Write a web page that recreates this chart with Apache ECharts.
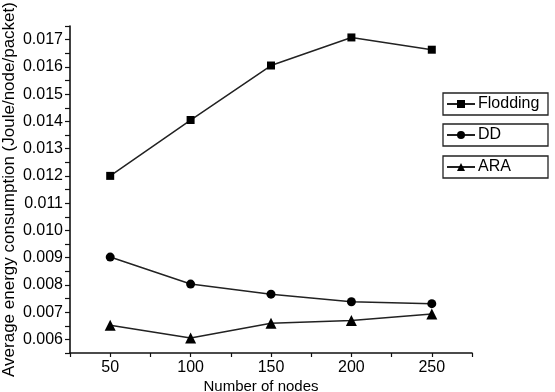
<!DOCTYPE html>
<html>
<head>
<meta charset="utf-8">
<script src="https://cdn.jsdelivr.net/npm/echarts@6/dist/echarts.min.js"></script>
<style>
  html, body { margin: 0; padding: 0; background: #fff; }
  #chart { width: 555px; height: 392px; }
</style>
</head>
<body>
<div id="chart"></div>
<script>
'use strict';

// values
var nodes = [50, 100, 150, 200, 250];
var flodding = [0.01200, 0.01405, 0.01605, 0.01708, 0.01663];
var dd = [0.00902, 0.00803, 0.00766, 0.00738, 0.00731];
var ara = [0.00652, 0.00605, 0.00659, 0.00669, 0.00693];
var seriesNames = ['Flodding', 'DD', 'ARA'];
var seriesSymbols = ['rect', 'circle', 'triangle'];

var font = 'Liberation Sans, Arial, sans-serif';

function pairs(ys) {
    return nodes.map(function(x, i) { return [x, ys[i]]; });
}

function makeSeries(name, ys, symbol) {
    return {
        name: name,
        type: 'line',
        data: pairs(ys),
        symbol: symbol,
        symbolSize: symbol === 'triangle' ? 11 : (symbol === 'rect' ? 8 : 9),
        lineStyle: { color: '#222', width: 1.5 },
        itemStyle: { color: '#000' },
        animation: false
    };
}

function makeLegend(name, top) {
    return {
        data: [name],
        left: 443,
        top: top,
        orient: 'vertical',
        itemWidth: 28,
        itemHeight: 10,
        itemGap: 0,
        padding: [3, 3, 3, 3],
        borderColor: '#222',
        borderWidth: 1.3,
        borderRadius: 0,
        textStyle: { color: '#000', fontSize: 16, fontFamily: font, width: 67, lineHeight: 16, padding: [0, 0, 0, -2] }
    };
}

var myChart = echarts.init(document.getElementById('chart'));

var option = {
    backgroundColor: '#fff',
    animation: false,
    grid: { left: 70, right: 83, top: 26, bottom: 39, outerBoundsMode: 'none', containLabel: false },
    title: {
        text: 'Number of nodes',
        left: 261,
        top: 379,
        textAlign: 'center',
        padding: 0,
        textStyle: { fontSize: 15, fontWeight: 'normal', color: '#000', fontFamily: font }
    },
    legend: [
        makeLegend('Flodding', 93),
        makeLegend('DD', 124),
        makeLegend('ARA', 156)
    ],
    xAxis: {
        type: 'value',
        min: 25,
        max: 275,
        interval: 25,
        axisLine: { lineStyle: { color: '#111', width: 1.6 } },
        axisTick: { inside: false, length: 4, lineStyle: { color: '#111', width: 1.2 } },
        splitLine: { show: false },
        axisLabel: {
            color: '#000',
            fontSize: 16,
            fontFamily: font,
            margin: 7,
            showMinLabel: true,
            showMaxLabel: true,
            formatter: function(v) { return v % 50 === 0 ? String(v) : ''; }
        }
    },
    yAxis: {
        type: 'value',
        min: 0.0055,
        max: 0.0175,
        interval: 0.0005,
        name: 'Average energy consumption (Joule/node/packet)',
        nameLocation: 'middle',
        nameGap: 52,
        nameMoveOverlap: false,
        nameTextStyle: { fontSize: 17, color: '#000', fontFamily: font },
        axisLine: { lineStyle: { color: '#111', width: 1.6 } },
        axisTick: { inside: false, length: 5, lineStyle: { color: '#111', width: 1.2 } },
        splitLine: { show: false },
        axisLabel: {
            color: '#000',
            fontSize: 16,
            fontFamily: font,
            margin: 7,
            formatter: function(v) {
                var k = v * 1000;
                return Math.abs(k - Math.round(k)) < 1e-6 ? v.toFixed(3) : '';
            }
        }
    },
    series: [
        makeSeries(seriesNames[0], flodding, seriesSymbols[0]),
        makeSeries(seriesNames[1], dd, seriesSymbols[1]),
        makeSeries(seriesNames[2], ara, seriesSymbols[2])
    ]
};

myChart.setOption(option);
</script>
</body>
</html>
